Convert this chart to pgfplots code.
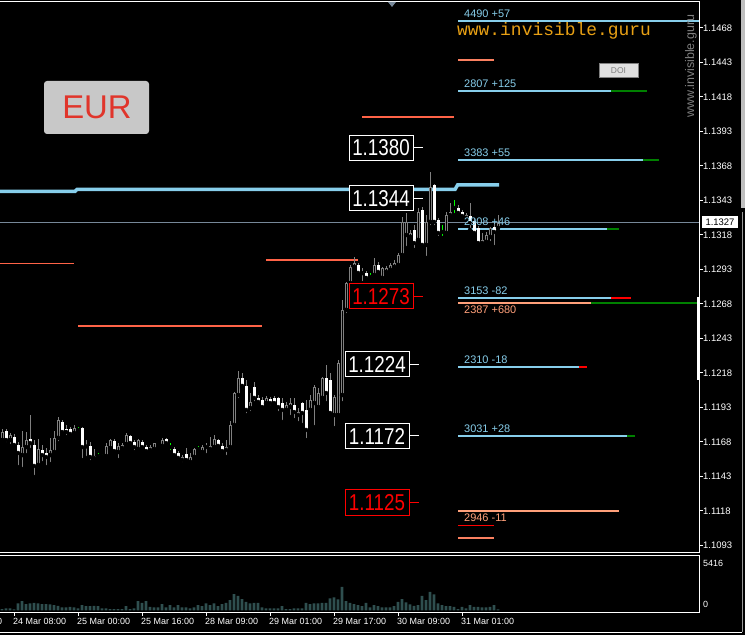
\documentclass[border=0pt]{standalone}
\usepackage{pgfplots}
\pgfplotsset{compat=1.18}
\usepackage{pgfplotstable}
\usepackage{graphicx}
\usepackage{fontspec}
\setmainfont{Liberation Sans}
\newfontfamily\monofont{Liberation Mono}
\definecolor{skyb}{HTML}{87CEEB}
\definecolor{wick}{HTML}{808080}
\definecolor{slateg}{HTML}{778899}
\definecolor{mycoral}{HTML}{FF6347}
\definecolor{lsalmon}{HTML}{FFA07A}
\definecolor{mysalmon}{HTML}{FA8060}
\definecolor{mylime}{HTML}{00FF00}
\definecolor{dgreen}{HTML}{008000}
\definecolor{volc}{HTML}{2F4F4F}
\definecolor{eurbg}{HTML}{C8C8C8}
\definecolor{eurred}{HTML}{E0352B}
\definecolor{guru}{RGB}{232,160,20}
\definecolor{doibg}{HTML}{E0E0E0}

\pgfplotstableread{
i o h l c t
0 1.11693 1.11773 1.11671 1.11751 1
1 1.11758 1.11773 1.11664 1.11693 2
2 1.11693 1.11744 1.11650 1.11729 1
3 1.11715 1.11737 1.11650 1.11657 2
4 1.11657 1.11679 1.11497 1.11599 2
5 1.11584 1.11758 1.11483 1.11642 1
6 1.11642 1.11751 1.11584 1.11693 1
7 1.11700 1.11874 1.11621 1.11671 2
8 1.11657 1.11693 1.11425 1.11505 2
9 1.11512 1.11700 1.11483 1.11628 1
10 1.11621 1.11657 1.11526 1.11584 2
11 1.11599 1.11635 1.11497 1.11570 2
12 1.11584 1.11708 1.11519 1.11621 1
13 1.11606 1.11758 1.11599 1.11708 1
14 1.11708 1.11860 1.11671 1.11838 1
15 1.11824 1.11838 1.11729 1.11751 2
16 1.11773 1.11802 1.11715 1.11751 2
17 1.11773 1.11787 1.11722 1.11737 2
18 1.11744 1.11802 1.11722 1.11780 1
19 1.11766 1.11787 1.11744 1.11773 3
20 1.11780 1.11787 1.11548 1.11642 2
21 1.11653 1.11693 1.11563 1.11646 2
22 1.11650 1.11679 1.11534 1.11570 2
23 1.11563 1.11628 1.11555 1.11577 1
24 1.11577 1.11599 1.11563 1.11584 3
25 1.11584 1.11592 1.11570 1.11577 3
26 1.11577 1.11671 1.11570 1.11650 1
27 1.11635 1.11700 1.11621 1.11693 1
28 1.11686 1.11700 1.11606 1.11613 2
29 1.11606 1.11671 1.11548 1.11650 1
30 1.11635 1.11671 1.11621 1.11657 1
31 1.11664 1.11744 1.11657 1.11729 1
32 1.11722 1.11729 1.11657 1.11671 2
33 1.11679 1.11693 1.11606 1.11642 2
34 1.11628 1.11700 1.11621 1.11693 1
35 1.11679 1.11693 1.11628 1.11642 2
36 1.11642 1.11657 1.11606 1.11613 2
37 1.11621 1.11657 1.11606 1.11642 1
38 1.11628 1.11671 1.11621 1.11671 1
39 1.11650 1.11657 1.11642 1.11650 1
40 1.11650 1.11708 1.11642 1.11693 1
41 1.11700 1.11708 1.11650 1.11671 2
42 1.11650 1.11671 1.11606 1.11642 3
43 1.11628 1.11642 1.11563 1.11584 2
44 1.11599 1.11613 1.11548 1.11563 2
45 1.11548 1.11584 1.11519 1.11570 1
46 1.11592 1.11635 1.11534 1.11548 2
47 1.11534 1.11599 1.11526 1.11570 1
48 1.11570 1.11635 1.11570 1.11628 1
49 1.11628 1.11650 1.11606 1.11635 3
50 1.11606 1.11657 1.11599 1.11642 1
51 1.11642 1.11671 1.11584 1.11650 1
52 1.11628 1.11715 1.11621 1.11650 1
53 1.11642 1.11729 1.11642 1.11700 1
54 1.11693 1.11700 1.11642 1.11650 2
55 1.11650 1.11671 1.11606 1.11613 2
56 1.11621 1.11693 1.11570 1.11642 1
57 1.11642 1.11831 1.11635 1.11802 1
58 1.11802 1.12041 1.11787 1.12034 1
59 1.12019 1.12194 1.11983 1.12143 1
60 1.12143 1.12179 1.12070 1.12085 2
61 1.12085 1.12128 1.11874 1.11911 2
62 1.11925 1.12034 1.11889 1.11969 1
63 1.12077 1.12114 1.11961 1.11998 2
64 1.11998 1.12019 1.11947 1.11969 2
65 1.11983 1.12005 1.11925 1.11932 2
66 1.11961 1.12012 1.11947 1.11998 1
67 1.11990 1.12005 1.11932 1.11961 2
68 1.11998 1.12012 1.11947 1.11961 2
69 1.11998 1.12005 1.11889 1.11932 2
70 1.11961 1.11998 1.11824 1.11911 2
71 1.11911 1.11969 1.11896 1.11947 1
72 1.11932 1.11998 1.11860 1.11961 1
73 1.11947 1.11998 1.11838 1.11896 2
74 1.11874 1.11925 1.11816 1.11896 1
75 1.11961 1.11969 1.11802 1.11889 2
76 1.11911 1.11983 1.11693 1.11766 2
77 1.11911 1.12019 1.11889 1.11983 1
78 1.11961 1.12092 1.11787 1.12077 1
79 1.11932 1.12070 1.11911 1.12034 1
80 1.11998 1.12150 1.11983 1.12143 1
81 1.12143 1.12237 1.11961 1.12034 2
82 1.12128 1.12179 1.11874 1.11889 2
83 1.11874 1.12019 1.11780 1.12005 1
84 1.11874 1.12273 1.11860 1.12251 1
85 1.12019 1.12708 1.11961 1.12636 1
86 1.12636 1.12839 1.12599 1.12831 1
87 1.12831 1.12962 1.12802 1.12947 1
88 1.12947 1.13020 1.12926 1.12976 1
89 1.12962 1.12976 1.12889 1.12904 2
90 1.12904 1.12940 1.12831 1.12902 2
91 1.12904 1.12918 1.12853 1.12868 2
92 1.12875 1.12904 1.12853 1.12882 3
93 1.12889 1.13013 1.12875 1.12962 1
94 1.12962 1.12984 1.12904 1.12911 2
95 1.12868 1.12947 1.12853 1.12940 1
96 1.12911 1.12955 1.12897 1.12940 1
97 1.12926 1.12976 1.12911 1.12962 1
98 1.12947 1.12998 1.12940 1.12976 1
99 1.12962 1.13049 1.12947 1.13034 1
100 1.13034 1.13310 1.13020 1.13274 1
101 1.13179 1.13339 1.13085 1.13274 1
102 1.13165 1.13216 1.13143 1.13194 1
103 1.13216 1.13252 1.13071 1.13121 2
104 1.13143 1.13375 1.13129 1.13346 1
105 1.13361 1.13382 1.13085 1.13107 2
106 1.13107 1.13324 1.13013 1.13274 1
107 1.13274 1.13636 1.13237 1.13527 1
108 1.13542 1.13550 1.13237 1.13274 2
109 1.13288 1.13303 1.13158 1.13194 2
110 1.13201 1.13252 1.13158 1.13208 3
111 1.13194 1.13346 1.13179 1.13324 1
112 1.13324 1.13411 1.13310 1.13346 1
113 1.13375 1.13433 1.13324 1.13382 3
114 1.13375 1.13397 1.13317 1.13339 2
115 1.13346 1.13361 1.13303 1.13317 2
116 1.13303 1.13339 1.13288 1.13324 1
117 1.13317 1.13411 1.13216 1.13266 2
118 1.13281 1.13303 1.13179 1.13194 2
119 1.13230 1.13245 1.13107 1.13121 2
120 1.13121 1.13194 1.13107 1.13143 1
121 1.13129 1.13201 1.13121 1.13179 1
122 1.13165 1.13237 1.13121 1.13230 1
123 1.13237 1.13266 1.13092 1.13201 2
124 1.13230 1.13324 1.13201 1.13266 1
}\candles

\pgfplotstableread{
i v
0 141
1 212
2 212
3 106
4 742
5 989
6 671
7 742
8 813
9 742
10 671
11 671
12 636
13 565
14 495
15 318
16 318
17 389
18 318
19 212
20 565
21 459
22 459
23 495
24 459
25 212
26 212
27 141
28 141
29 141
30 141
31 459
32 141
33 212
34 989
35 813
36 989
37 389
38 318
39 318
40 671
41 318
42 565
43 318
44 565
45 318
46 318
47 212
48 318
49 565
50 459
51 742
52 565
53 742
54 459
55 671
56 813
57 1095
58 1731
59 1555
60 1201
61 919
62 742
63 813
64 813
65 318
66 212
67 212
68 212
69 212
70 459
71 141
72 141
73 212
74 212
75 212
76 813
77 671
78 742
79 742
80 813
81 813
82 1272
83 1378
84 1166
85 2509
86 989
87 813
88 671
89 565
90 459
91 813
92 318
93 565
94 459
95 318
96 318
97 318
98 459
99 919
100 1201
101 848
102 636
103 495
104 565
105 1555
106 1095
107 1979
108 1696
109 742
110 565
111 459
112 459
113 389
114 141
115 389
116 212
117 565
118 389
119 389
120 318
121 318
122 389
123 565
124 106
}\vols

\begin{document}
\begin{tikzpicture}
\useasboundingbox (0bp,0bp) rectangle (745bp,635bp);
\fill[black] (0bp,0bp) rectangle (745bp,635bp);

% ---------------- main price panel ----------------
\begin{axis}[
  at={(-1bp,82bp)}, anchor=south west, scale only axis,
  width=700bp, height=551bp,
  xmin=-0.75, xmax=174.25, ymin=1.10874, ymax=1.14868,
  axis line style={white, line width=1bp},
  xtick=\empty,
  ytick={1.1093,1.1118,1.1143,1.1168,1.1193,1.1218,1.1243,1.1268,1.1293,1.1318,1.1343,1.1368,1.1393,1.1418,1.1443,1.1468},
  ytick pos=right, yticklabel pos=right,
  tick align=outside, major tick length=4bp,
  tick style={white, line width=1bp},
  scaled y ticks=false,
  yticklabel style={font=\fontsize{9.5}{10}\selectfont, text=white, anchor=west, inner sep=0pt,
    /pgf/number format/.cd, fixed, fixed zerofill, precision=4, assume math mode=true},
]
% horizontal levels (left part)
\addplot[forget plot, no marks, mycoral, line width=1.4bp] coordinates {(-0.75,1.12974) (18,1.12974)};
\addplot[forget plot, no marks, mycoral, line width=1.4bp] coordinates {(19,1.12520) (65,1.12520)};
\addplot[forget plot, no marks, mycoral, line width=1.4bp] coordinates {(66,1.12998) (89,1.12998)};
\addplot[forget plot, no marks, mycoral, line width=1.4bp] coordinates {(90,1.14035) (113,1.14035)};
\addplot[forget plot, no marks, mysalmon, line width=1.4bp] coordinates {(114,1.14448) (123,1.14448)};
\addplot[forget plot, no marks, red, line width=1.4bp] coordinates {(114,1.11072) (123,1.11072)};
\addplot[forget plot, no marks, mysalmon, line width=1.4bp] coordinates {(114,1.10983) (123,1.10983)};
% current price line
\addplot[forget plot, no marks, slateg, line width=1bp] coordinates {(-0.75,1.13271) (174.25,1.13271)};
% thick sky blue step line
\addplot[forget plot, no marks, skyb, line width=3.5bp] coordinates {(-0.75,1.13495) (18.25,1.13495) (18.75,1.13509) (113.25,1.13509) (113.9,1.13542) (124.25,1.13542)};
% right-side levels
\addplot[forget plot, no marks, skyb, line width=2bp] coordinates {(114,1.14733) (174.25,1.14733)};
\addplot[forget plot, no marks, skyb, line width=2bp] coordinates {(114,1.14225) (152.25,1.14225)};
\addplot[forget plot, no marks, dgreen, line width=2bp] coordinates {(152.25,1.14225) (161.25,1.14225)};
\addplot[forget plot, no marks, skyb, line width=2bp] coordinates {(114,1.13723) (160.25,1.13723)};
\addplot[forget plot, no marks, dgreen, line width=2bp] coordinates {(160.25,1.13723) (164.25,1.13723)};
\addplot[forget plot, no marks, skyb, line width=2bp] coordinates {(114,1.13223) (151.25,1.13223)};
\addplot[forget plot, no marks, dgreen, line width=2bp] coordinates {(151.25,1.13223) (154.25,1.13223)};
\addplot[forget plot, no marks, skyb, line width=2bp] coordinates {(114,1.12725) (152.25,1.12725)};
\addplot[forget plot, no marks, red, line width=2bp] coordinates {(152.25,1.12725) (157.25,1.12725)};
\addplot[forget plot, no marks, lsalmon, line width=2bp] coordinates {(114,1.12684) (147.25,1.12684)};
\addplot[forget plot, no marks, dgreen, line width=2bp] coordinates {(147.25,1.12684) (174.25,1.12684)};
\addplot[forget plot, no marks, skyb, line width=2bp] coordinates {(114,1.12224) (144.25,1.12224)};
\addplot[forget plot, no marks, red, line width=2bp] coordinates {(144.25,1.12224) (146.25,1.12224)};
\addplot[forget plot, no marks, skyb, line width=2bp] coordinates {(114,1.11722) (156.25,1.11722)};
\addplot[forget plot, no marks, dgreen, line width=2bp] coordinates {(156.25,1.11722) (158.25,1.11722)};
\addplot[forget plot, no marks, lsalmon, line width=2bp] coordinates {(114,1.11178) (154.25,1.11178)};

% candles: wicks
\addplot[only marks, mark=none, forget plot, restrict expr to domain={\thisrow{t}}{1:2},
  error bars/.cd, y dir=plus, y explicit, error mark=none,
  error bar style={draw=wick, line width=1bp}]
  table[x=i, y=l, y error plus expr={\thisrow{h}-\thisrow{l}}] {\candles};
\addplot[only marks, mark=none, forget plot, restrict expr to domain={\thisrow{t}}{3:3},
  error bars/.cd, y dir=plus, y explicit, error mark=none,
  error bar style={draw=mylime, line width=1bp}]
  table[x=i, y=l, y error plus expr={\thisrow{h}-\thisrow{l}}] {\candles};
% bull bodies (hollow)
\addplot[only marks, mark=none, forget plot, restrict expr to domain={\thisrow{t}}{1:1},
  error bars/.cd, y dir=plus, y explicit, error mark=none,
  error bar style={draw=wick, line width=3bp}]
  table[x=i, y expr={min(\thisrow{o},\thisrow{c})}, y error plus expr={max(abs(\thisrow{o}-\thisrow{c}),0.00007)}] {\candles};
\addplot[only marks, mark=none, forget plot, restrict expr to domain={(\thisrow{t}==1)*abs(\thisrow{o}-\thisrow{c})*100000}{25:100000},
  error bars/.cd, y dir=plus, y explicit, error mark=none,
  error bar style={draw=black, line width=1bp, shorten <=1bp, shorten >=1bp}]
  table[x=i, y expr={min(\thisrow{o},\thisrow{c})}, y error plus expr={abs(\thisrow{o}-\thisrow{c})}] {\candles};
% bear bodies (filled white)
\addplot[only marks, mark=none, forget plot, restrict expr to domain={\thisrow{t}}{2:2},
  error bars/.cd, y dir=plus, y explicit, error mark=none,
  error bar style={draw=white, line width=3bp}]
  table[x=i, y expr={min(\thisrow{o},\thisrow{c})}, y error plus expr={max(abs(\thisrow{o}-\thisrow{c}),0.00007)}] {\candles};
% green doji bodies
\addplot[only marks, mark=none, forget plot, restrict expr to domain={\thisrow{t}}{3:3},
  error bars/.cd, y dir=plus, y explicit, error mark=none,
  error bar style={draw=mylime, line width=3bp}]
  table[x=i, y expr={min(\thisrow{o},\thisrow{c})}, y error plus expr={max(abs(\thisrow{o}-\thisrow{c}),0.00007)}] {\candles};
\end{axis}

% ---------------- volume panel ----------------
\begin{axis}[
  at={(-1bp,23bp)}, anchor=south west, scale only axis,
  width=700bp, height=56bp,
  xmin=-0.75, xmax=174.25, ymin=-159, ymax=5777,
  axis line style={white, line width=1bp},
  ytick=\empty,
  xtick={3,19,35,51,67,83,99,115}, xticklabels={},
  xtick pos=bottom, tick align=outside, major tick length=4bp,
  tick style={white, line width=1bp},
]
\addplot[ybar, bar width=2.8bp, fill=volc, draw=none] table[x=i, y=v] {\vols};
\end{axis}

% ---------------- annotations ----------------
\begin{scope}[x=1bp, y=1bp, every node/.style={inner sep=0pt}]
% date labels
\foreach \xx/\lab in {-51/23 Mar 16:00, 13/24 Mar 08:00, 77/25 Mar 00:00, 141/25 Mar 16:00, 205/28 Mar 09:00, 269/29 Mar 01:00, 333/29 Mar 17:00, 397/30 Mar 09:00, 461/31 Mar 01:00}
  \node[anchor=west, text=white, font=\fontsize{9}{10}\selectfont] at (\xx,14) {\lab};
% volume scale
\node[anchor=west, text=white, font=\fontsize{9}{10}\selectfont] at (703,72) {5416};
\node[anchor=west, text=white, font=\fontsize{9}{10}\selectfont] at (703,30.5) {0};

% EUR box
\fill[eurbg, rounded corners=3bp] (44,501) rectangle (149,554);
\node[text=eurred, font=\fontsize{33}{33}\selectfont] at (97,527.5) {EUR};

% website text
\node[anchor=base west, text=guru, font=\monofont\fontsize{18}{18}\selectfont] at (457,599) {www.invisible.guru};
\node[rotate=90, text=wick, font=\fontsize{12.5}{13}\selectfont] at (691,569) {www.invisible.guru};

% DOI button
\draw[fill=doibg, draw=wick, line width=1bp] (599,557) rectangle (638,571);
\node[text=wick, font=\fontsize{8.5}{9}\selectfont] at (618.5,564) {DOI};

% top triangle
\fill[slateg] (388,633) -- (396,633) -- (392,628) -- cycle;

% price boxes
\foreach \cx/\cy/\lab/\col/\tx in {381/487/1.1380/white/413, 381/436.5/1.1344/white/413, 381/338.5/1.1273/red/413, 377/270.5/1.1224/white/409, 377/199/1.1172/white/409, 377/132.5/1.1125/red/409}{
  \node[draw=\col, fill=black, line width=1bp, text=\col, minimum width=64bp, minimum height=25bp,
        font=\fontsize{23}{23}\selectfont] at (\cx,\cy) {\scalebox{0.82}[1]{\lab}};
  \draw[\col, line width=1bp] (\tx,\cy) -- ++(10,0);
}

% level labels
\foreach \yy/\lab/\col in {621/4490 +57/skyb, 551/2807 +125/skyb, 482/3383 +55/skyb, 413/2908 +46/skyb, 344/3153 -82/skyb, 325/2387 +680/lsalmon, 275/2310 -18/skyb, 206/3031 +28/skyb, 117.5/2946 -11/lsalmon}
  \node[anchor=west, text=\col, font=\fontsize{11}{12}\selectfont] at (464,\yy) {\lab};

% current price tag
\fill[white] (702,406.5) rectangle (738,418.5);
\node[text=black, font=\fontsize{9.5}{10}\selectfont] at (720,412.5) {1.1327};

% white bar on the right edge
\fill[white] (697,255) rectangle (700,338);

% window frame fragments
\fill[black!25] (741,427) rectangle (745,635);
\draw[white, line width=1bp] (0,3) -- (742,3);
\draw[black!40, line width=1bp] (742,3) -- (742,423);
\end{scope}
\end{tikzpicture}
\end{document}
